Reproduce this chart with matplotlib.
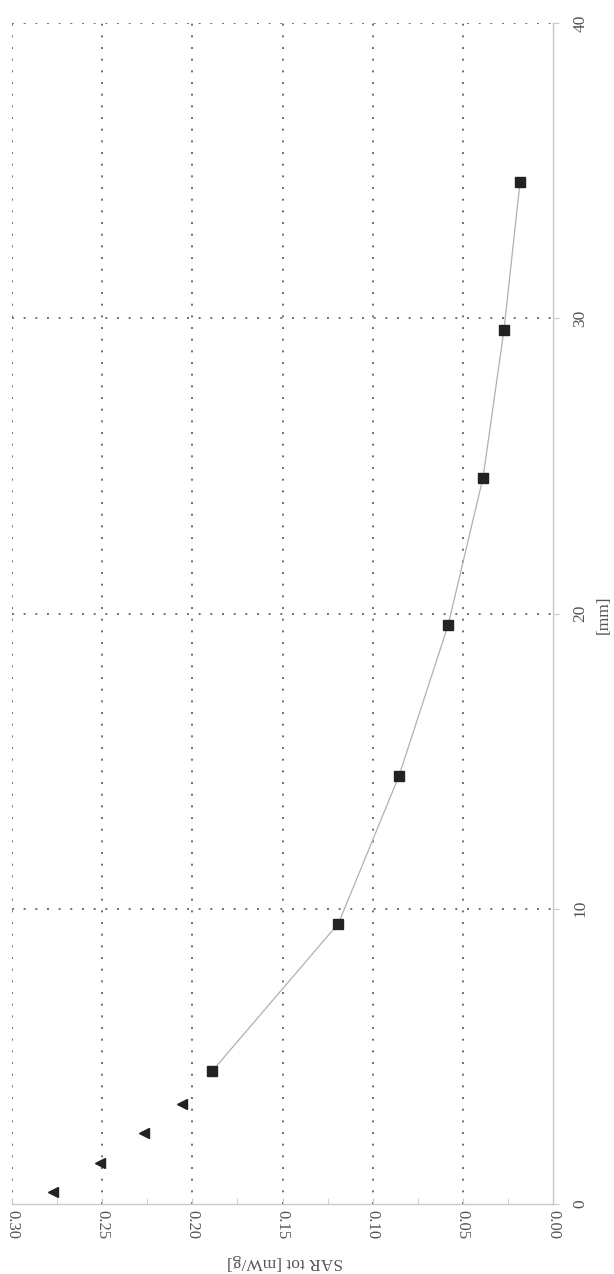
import matplotlib
matplotlib.use("Agg")
import matplotlib.pyplot as plt
from matplotlib.ticker import MultipleLocator

# distance [mm] vs SAR tot [mW/g]; the chart is drawn turned on its side
sq_mm = [4.5, 9.5, 14.5, 19.6, 24.6, 29.6, 34.6]
sq_sar = [0.189, 0.119, 0.0854, 0.0582, 0.0388, 0.0272, 0.0183]
tri_mm = [0.4, 1.4, 2.4, 3.4]
tri_sar = [0.277, 0.251, 0.227, 0.206]

sar_ticks = [0.30, 0.25, 0.20, 0.15, 0.10, 0.05, 0.00]
mm_ticks = [0, 10, 20, 30, 40]

GREY = "#555555"
plt.rcParams["font.family"] = ["Liberation Serif", "DejaVu Serif"]

fig = plt.figure(figsize=(6.14, 12.74), dpi=100)
ax = fig.add_axes([12 / 614, 70 / 1274, 541 / 614, 1181 / 1274])

ax.plot(sq_sar, sq_mm, color="#b0b0b0", lw=0.9, zorder=2)
ax.plot(sq_sar, sq_mm, "s", color="#222222", ms=6.5, zorder=3)
ax.plot(tri_sar, tri_mm, "<", color="#222222", ms=7.5, zorder=3)

ax.set_xlim(0.30, 0.00)
ax.set_ylim(0, 40)
ax.set_xticks(sar_ticks)
ax.set_xticklabels([f"{v:.2f}" for v in sar_ticks], rotation=-90,
                   fontsize=12, color=GREY)
ax.xaxis.set_minor_locator(MultipleLocator(0.025))
ax.yaxis.tick_right()
ax.set_yticks(mm_ticks)
ax.set_yticklabels([str(v) for v in mm_ticks], rotation=90, va="center",
                   fontsize=12.5, color=GREY)

ax.tick_params(axis="x", which="major", direction="in", length=4,
               color="#c8c8c8", pad=4)
ax.tick_params(axis="x", which="minor", direction="in", length=4,
               color="#c8c8c8")
ax.tick_params(axis="y", direction="out", length=4, color="#c8c8c8", pad=10)

ax.grid(True, which="major", linestyle=(0, (1, 5)), color="#6e6e6e", lw=1.4)
# the 0 lines sit on the solid axis lines, no dots there
ax.xaxis.get_gridlines()[-1].set_visible(False)
ax.yaxis.get_gridlines()[0].set_visible(False)
for side in ("top", "left"):
    ax.spines[side].set_visible(False)
for side in ("bottom", "right"):
    ax.spines[side].set_color("#c8c8c8")
    ax.spines[side].set_linewidth(1.0)

fig.text(604 / 614, 1 - 615 / 1274, "[mm]", rotation=90, ha="center",
         va="center", fontsize=12.5, color=GREY)
fig.text(285 / 614, 1 - 1262 / 1274, "SAR tot [mW/g]", rotation=180,
         ha="center", va="center", fontsize=12.5, color=GREY)

fig.savefig("out.png", dpi=100)
